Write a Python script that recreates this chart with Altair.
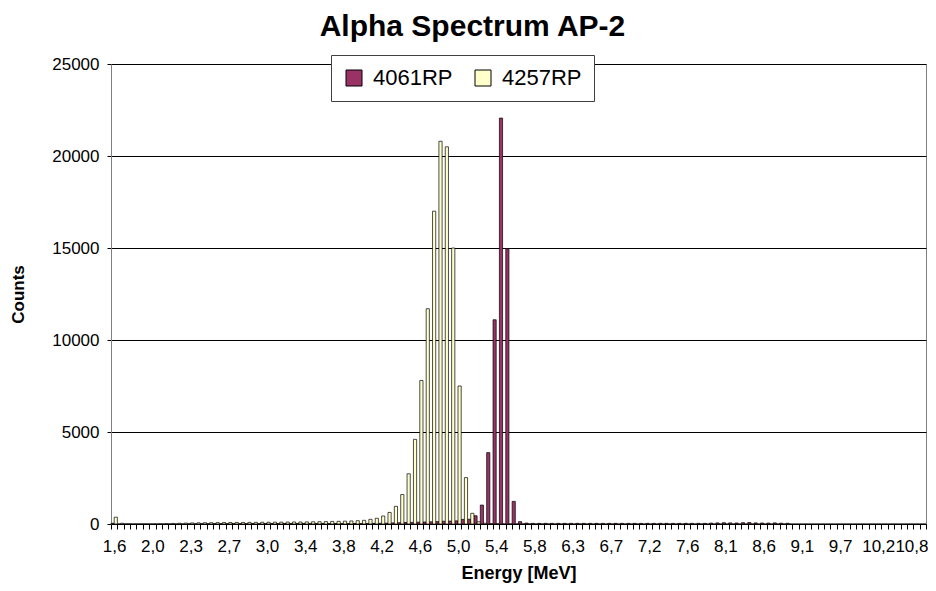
import altair as alt
import pandas as pd

# Category index (energy bins) and the labels shown every 6th bin
bins = list(range(128))
tick_labels = ["1,6", "2,0", "2,3", "2,7", "3,0", "3,4", "3,8", "4,2", "4,6", "5,0",
               "5,4", "5,8", "6,3", "6,7", "7,2", "7,6", "8,1", "8,6", "9,1", "9,7",
               "10,2", "10,8"]
series_names = ["4061RP", "4257RP"]

counts_4257 = [
    370, 40, 15, 10, 10, 10, 10, 15, 20, 30,
    40, 50, 60, 65, 70, 70, 75, 80, 80, 85,
    85, 90, 90, 95, 95, 100, 100, 105, 110, 110,
    115, 120, 125, 130, 140, 145, 155, 165, 180, 200,
    255, 310, 435, 630, 960, 1600, 2730, 4600, 7800, 11700,
    17000, 20800, 20500, 15000, 7500, 2520, 580, 120, 40, 20,
    15, 10, 10, 10, 10, 8, 5, 5, 5, 0,
    0, 0, 0, 0, 0, 0, 0, 0, 0, 0,
    0, 0, 0, 0, 0, 0, 0, 0, 0, 0,
    0, 0, 0, 0, 0, 0, 0, 0, 0, 0,
    0, 0, 0, 0, 0, 0, 0, 0, 0, 0,
    0, 0, 0, 0, 0, 0, 0, 0, 0, 0,
    0, 0, 0, 0, 0, 0, 0, 0,
]

counts_4061 = [
    40, 5, 5, 5, 5, 5, 5, 5, 5, 5,
    5, 5, 15, 15, 18, 18, 20, 20, 20, 22,
    22, 22, 25, 25, 25, 25, 28, 28, 28, 30,
    30, 30, 30, 30, 30, 30, 30, 30, 30, 30,
    30, 35, 40, 45, 60, 70, 80, 90, 100, 110,
    120, 130, 150, 160, 170, 250, 260, 450, 1030, 3880,
    11100, 22060, 14960, 1230, 130, 50, 35, 35, 35, 35,
    35, 35, 35, 35, 35, 35, 35, 35, 35, 35,
    35, 35, 35, 35, 35, 35, 35, 35, 35, 35,
    35, 35, 35, 35, 50, 60, 70, 60, 55, 70,
    80, 60, 55, 50, 60, 45, 40, 0, 0, 0,
    0, 0, 0, 0, 0, 0, 0, 0, 0, 0,
    0, 0, 0, 0, 0, 0, 0, 0,
]

rows = []
for b, v in zip(bins, counts_4061):
    rows.append({"bin": b, "series": series_names[0], "count": v})
for b, v in zip(bins, counts_4257):
    rows.append({"bin": b, "series": series_names[1], "count": v})
df = pd.DataFrame(rows)

label_array = "[" + ",".join("'" + s + "'" for s in tick_labels) + "]"
label_expr = f"datum.value % 6 == 0 ? {label_array}[datum.value / 6] : ''"

FONT = "Liberation Sans"

chart = alt.Chart(df).mark_bar(stroke="black", strokeWidth=0.7).encode(
    x=alt.X(
        "bin:O",
        sort=bins,
        scale=alt.Scale(paddingInner=0, paddingOuter=0),
        axis=alt.Axis(
            values=bins,
            labelExpr=label_expr,
            tickBand="extent",
            tickSize=5,
            tickColor="black",
            domainColor="black",
            labelFont=FONT,
            labelFontSize=17,
            labelColor="black",
            labelPadding=9,
            labelAngle=0,
            labelOverlap=False,
            labelOffset={"condition": {"test": "datum.value == 126", "value": -5}, "value": 0},
            title="Energy [MeV]",
            titleFont=FONT,
            titleFontSize=18,
            titleFontWeight="bold",
            titleColor="black",
            titlePadding=10,
            grid=False,
        ),
    ),
    xOffset=alt.XOffset(
        "series:N",
        sort=series_names,
        scale=alt.Scale(paddingInner=0, paddingOuter=0),
    ),
    y=alt.Y(
        "count:Q",
        scale=alt.Scale(domain=[0, 25000], nice=False),
        axis=alt.Axis(
            values=[0, 5000, 10000, 15000, 20000, 25000],
            format="d",
            grid=True,
            gridColor="black",
            gridWidth=1,
            domainColor="#808080",
            tickColor="black",
            tickSize=4,
            labelFont=FONT,
            labelFontSize=17,
            labelColor="black",
            labelPadding=8,
            title="Counts",
            titleFont=FONT,
            titleFontSize=17,
            titleFontWeight="bold",
            titleColor="black",
            titlePadding=24,
        ),
    ),
    color=alt.Color(
        "series:N",
        sort=series_names,
        scale=alt.Scale(domain=series_names, range=["#993366", "#FFFFCC"]),
        title=None,
        legend=alt.Legend(
            orient="none",
            legendX=220,
            legendY=-9,
            direction="horizontal",
            labelFont=FONT,
            labelFontSize=22,
            labelColor="black",
            labelOffset=8,
            symbolType="square",
            symbolSize=256,
            symbolStrokeColor="black",
            symbolStrokeWidth=1,
            symbolOpacity=1,
            columnPadding=19,
            padding=12,
            fillColor="white",
            strokeColor="#404040",
        ),
    ),
).properties(
    width=815,
    height=460,
    title=alt.TitleParams(
        "Alpha Spectrum AP-2",
        font=FONT,
        fontSize=30,
        fontWeight="bold",
        color="black",
        anchor="middle",
        dx=-46,
        offset=13,
    ),
    autosize=alt.AutoSizeParams(type="none"),
    padding={"left": 103, "top": 56, "right": 2, "bottom": 59},
    background="white",
).configure_view(stroke="#808080", strokeWidth=1)

chart.save("out.html", embed_options={"renderer": "svg", "actions": False})
